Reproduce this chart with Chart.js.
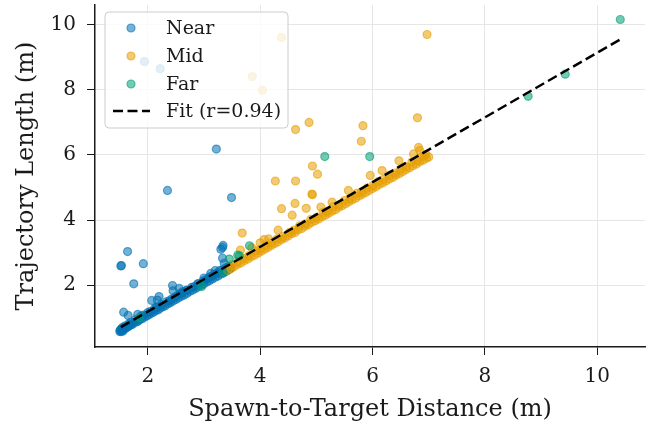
<!DOCTYPE html>
<html>
<head>
<meta charset="utf-8">
<script src="https://cdn.jsdelivr.net/npm/chart.js@4.4.1/dist/chart.umd.min.js"></script>
<style>
  html, body { margin: 0; padding: 0; background: #fff; }
  #wrap { width: 655px; height: 426px; }
</style>
</head>
<body>
<div id="wrap"><canvas id="c"></canvas></div>
<script>
// Near
const nearX = [1.94, 2.22, 2.35, 3.22, 3.49, 1.64, 1.52, 1.53, 1.92, 1.75, 1.57, 1.65, 1.82, 2.07, 2.17, 2.20,
  2.44, 2.45, 2.56, 2.62, 3.00, 3.12, 3.20, 3.36, 3.33, 3.34, 3.33, 3.30,
  1.50, 1.51, 1.52, 1.53, 1.54, 1.55, 1.56, 1.58, 1.60, 1.62, 1.65, 1.68, 1.70, 1.73, 1.76, 1.80, 1.83, 1.86,
  1.90, 1.94, 1.98, 2.02, 2.06, 2.10, 2.14, 2.18, 2.22, 2.27, 2.31, 2.36, 2.40, 2.45, 2.50, 2.55, 2.60, 2.65,
  2.70, 2.75, 2.80, 2.85, 2.90, 2.95, 3.00, 3.05, 3.10, 3.15, 3.20, 3.25, 3.30, 3.35, 3.40, 3.44, 3.48,
  1.60, 1.70, 1.88, 2.00, 2.25, 2.48, 2.70, 2.90, 3.10, 3.28, 2.15, 2.38, 2.62, 2.82, 3.02, 3.18, 3.38, 3.45,
  1.55, 1.66, 1.78, 1.92, 2.04, 2.12, 2.20, 2.33, 2.43, 2.53, 2.58, 2.68, 2.78, 2.88, 2.98, 3.08, 3.14, 3.24, 3.32, 3.42];
const nearY = [8.87, 8.65, 4.91, 6.18, 4.69, 3.03, 2.59, 2.60, 2.66, 2.04, 1.17, 1.07, 1.10, 1.53, 1.54, 1.65,
  1.99, 1.83, 1.90, 1.80, 2.22, 2.36, 2.45, 2.67, 3.16, 3.22, 2.83, 3.10,
  0.58, 0.62, 0.57, 0.66, 0.60, 0.63, 0.59, 0.68, 0.67, 0.70, 0.72, 0.76, 0.78, 0.80, 0.86, 0.87, 0.90, 0.95,
  0.97, 1.02, 1.05, 1.09, 1.14, 1.17, 1.22, 1.24, 1.29, 1.34, 1.37, 1.43, 1.46, 1.51, 1.56, 1.61, 1.66, 1.70,
  1.75, 1.81, 1.85, 1.90, 1.95, 2.00, 2.04, 2.10, 2.14, 2.19, 2.24, 2.28, 2.34, 2.38, 2.43, 2.47, 2.52,
  0.75, 0.86, 1.05, 1.16, 1.40, 1.63, 1.85, 2.05, 2.25, 2.45, 1.32, 1.52, 1.76, 1.95, 2.16, 2.33, 2.52, 2.58,
  0.70, 0.81, 0.94, 1.08, 1.19, 1.28, 1.36, 1.49, 1.58, 1.68, 1.74, 1.83, 1.93, 2.03, 2.12, 2.22, 2.28, 2.38, 2.46, 2.55];

// Mid
const midX = [4.38, 3.86, 4.04, 6.97, 4.63, 4.87, 5.83, 5.80, 6.80, 4.93, 5.02, 4.27, 4.63, 4.92, 4.93, 4.62,
  4.38, 4.57, 4.82, 5.08, 5.28, 5.57, 3.68, 3.65, 4.07, 4.32, 5.96, 6.17, 6.47, 6.73, 6.82, 6.84, 3.85, 4.00, 4.15,
  3.42, 3.48, 3.54, 3.60, 3.66, 3.72, 3.78, 3.84, 3.90, 3.96, 4.02, 4.08, 4.14, 4.20, 4.26, 4.32, 4.38, 4.44,
  4.50, 4.56, 4.62, 4.68, 4.74, 4.80, 4.86, 4.92, 4.98, 5.04, 5.10, 5.16, 5.22, 5.28, 5.34, 5.40, 5.46, 5.52,
  5.58, 5.64, 5.70, 5.76, 5.82, 5.88, 5.94, 6.00, 6.06, 6.12, 6.18, 6.24, 6.30, 6.36, 6.42, 6.48, 6.54, 6.60,
  6.66, 6.72, 6.78, 6.84, 6.90, 6.96, 7.00,
  3.50, 3.70, 3.92, 4.10, 4.30, 4.52, 4.70, 4.90, 5.12, 5.30, 5.50, 5.72, 5.90, 6.10, 6.30, 6.50, 6.70, 6.88, 6.95,
  3.60, 3.80, 4.00, 4.20, 4.40, 4.60, 4.80, 5.00, 5.20, 5.40, 5.60, 5.80, 6.00, 6.20, 6.40, 6.60, 6.80, 6.92];
const midY = [9.61, 8.41, 7.99, 9.70, 6.78, 7.00, 6.90, 6.42, 7.14, 5.66, 5.41, 5.20, 5.20, 4.80, 4.78, 4.51,
  4.35, 4.15, 4.36, 4.40, 4.55, 4.91, 3.60, 3.08, 3.40, 3.69, 5.37, 5.52, 5.82, 6.03, 6.23, 6.14, 3.15, 3.30, 3.42,
  2.45, 2.51, 2.57, 2.64, 2.68, 2.76, 2.80, 2.87, 2.92, 2.98, 3.04, 3.10, 3.16, 3.22, 3.28, 3.33, 3.40, 3.45,
  3.51, 3.58, 3.62, 3.70, 3.74, 3.81, 3.86, 3.93, 3.98, 4.03, 4.10, 4.15, 4.21, 4.27, 4.32, 4.39, 4.44, 4.50,
  4.56, 4.62, 4.67, 4.74, 4.79, 4.85, 4.91, 4.97, 5.02, 5.09, 5.14, 5.20, 5.26, 5.31, 5.38, 5.43, 5.49, 5.55,
  5.61, 5.67, 5.72, 5.79, 5.84, 5.90, 5.94,
  2.62, 2.82, 3.05, 3.22, 3.42, 3.62, 3.82, 4.02, 4.24, 4.41, 4.60, 4.82, 4.98, 5.18, 5.38, 5.56, 5.78, 5.96, 6.02,
  2.72, 2.91, 3.10, 3.30, 3.49, 3.69, 3.88, 4.08, 4.27, 4.47, 4.66, 4.86, 5.05, 5.25, 5.44, 5.64, 5.83, 5.97];

// Far
const farX = [10.41, 9.43, 8.77, 5.15, 5.95, 3.81, 3.63, 3.60, 3.45, 3.34, 2.96, 1.85];
const farY = [10.16, 8.48, 7.80, 5.95, 5.95, 3.21, 2.90, 2.92, 2.80, 2.37, 1.96, 1.00];

// fit line
const fitX = [1.52, 10.41];
const fitY = [0.71, 9.55];

const xTicks = [2, 4, 6, 8, 10];
const yTicks = [2, 4, 6, 8, 10];
const seriesNames = ['Near', 'Mid', 'Far', 'Fit (r=0.94)'];
const seriesColors = ['0,114,178', '230,159,0', '0,158,115'];

const FONT = 'DejaVu Serif';

function pts(xs, ys) {
  return xs.map((x, i) => ({x: x, y: ys[i]}));
}

function scatterSet(i, xs, ys) {
  return {
    type: 'scatter',
    label: seriesNames[i],
    data: pts(xs, ys),
    backgroundColor: 'rgba(' + seriesColors[i] + ',0.55)',
    borderColor: 'rgba(' + seriesColors[i] + ',0.6)',
    borderWidth: 1.2,
    pointRadius: 4,
    pointHoverRadius: 4,
    order: 3 - i
  };
}

// legend drawn inside the plot, top left
const boxLegend = {
  id: 'boxLegend',
  afterDraw(chart) {
    const ctx = chart.ctx;
    ctx.save();
    const bx = 105, by = 12, bw = 183, bh = 116;
    ctx.beginPath();
    ctx.roundRect(bx, by, bw, bh, 4);
    ctx.fillStyle = 'rgba(255,255,255,0.8)';
    ctx.fill();
    ctx.strokeStyle = '#cccccc';
    ctx.lineWidth = 1;
    ctx.stroke();

    const rows = [28, 56, 84, 111];
    ctx.font = '19px "' + FONT + '"';
    ctx.textBaseline = 'middle';
    for (let i = 0; i < 4; i++) {
      if (i < 3) {
        ctx.beginPath();
        ctx.arc(131, rows[i], 4, 0, Math.PI * 2);
        ctx.fillStyle = 'rgba(' + seriesColors[i] + ',0.55)';
        ctx.fill();
        ctx.strokeStyle = 'rgba(' + seriesColors[i] + ',0.6)';
        ctx.lineWidth = 1.2;
        ctx.stroke();
      } else {
        ctx.beginPath();
        ctx.setLineDash([10, 4.5]);
        ctx.moveTo(113, rows[i]);
        ctx.lineTo(150, rows[i]);
        ctx.strokeStyle = '#000';
        ctx.lineWidth = 2.5;
        ctx.stroke();
        ctx.setLineDash([]);
      }
      ctx.fillStyle = '#1a1a1a';
      ctx.fillText(seriesNames[i], 166, rows[i] + 1);
    }
    ctx.restore();
  }
};

new Chart(document.getElementById('c'), {
  type: 'scatter',
  data: {
    datasets: [
      {
        type: 'line',
        label: seriesNames[3],
        data: pts(fitX, fitY),
        borderColor: '#000',
        borderWidth: 2.5,
        borderDash: [10, 4.5],
        pointRadius: 0,
        fill: false,
        order: 0
      },
      scatterSet(0, nearX, nearY),
      scatterSet(1, midX, midY),
      scatterSet(2, farX, farY)
    ]
  },
  options: {
    responsive: true,
    maintainAspectRatio: false,
    animation: false,
    layout: { padding: { left: 0, right: 10, top: 5, bottom: 0 } },
    plugins: {
      legend: { display: false },
      tooltip: { enabled: false }
    },
    scales: {
      x: {
        type: 'linear',
        min: 1.06,
        max: 10.85,
        afterBuildTicks: s => { s.ticks = xTicks.map(v => ({value: v})); },
        afterFit: s => { s.height = 79; s.paddingLeft = 0; s.paddingRight = 0; },
        grid: { color: '#e6e6e6', lineWidth: 1, tickColor: '#1a1a1a', tickLength: 8 },
        border: { color: '#1a1a1a', width: 1.5 },
        ticks: { color: '#1a1a1a', font: { family: FONT, size: 20 }, padding: 10, maxRotation: 0 },
        title: { display: true, text: 'Spawn-to-Target Distance (m)', color: '#1a1a1a',
                 font: { family: FONT, size: 24 }, padding: { top: 2, bottom: 2 } }
      },
      y: {
        type: 'linear',
        min: 0.1,
        max: 10.6,
        afterBuildTicks: s => { s.ticks = yTicks.map(v => ({value: v})); },
        afterFit: s => { s.width = 95; s.paddingTop = 0; s.paddingBottom = 0; },
        grid: { color: '#e6e6e6', lineWidth: 1, tickColor: '#1a1a1a', tickLength: 8 },
        border: { color: '#1a1a1a', width: 1.5 },
        ticks: { color: '#1a1a1a', font: { family: FONT, size: 20 }, padding: 11 },
        title: { display: true, text: 'Trajectory Length (m)', color: '#1a1a1a',
                 font: { family: FONT, size: 24 }, padding: { top: 12, bottom: 2 } }
      }
    }
  },
  plugins: [boxLegend]
});
</script>
</body>
</html>
